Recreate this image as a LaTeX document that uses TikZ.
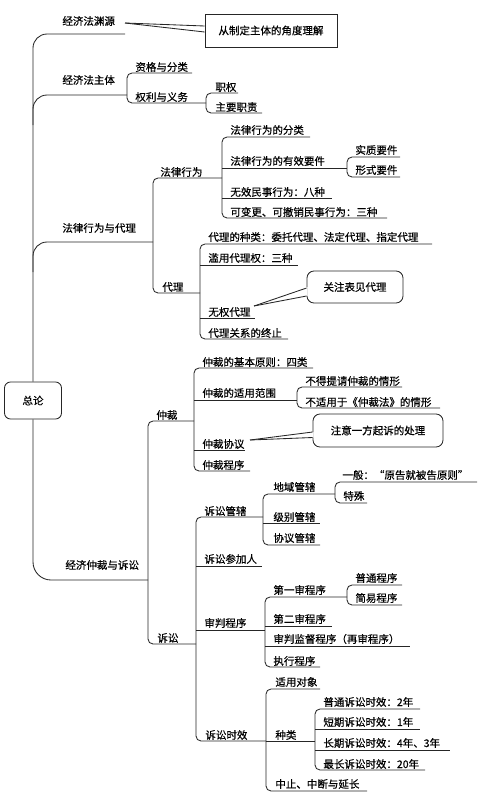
\documentclass[tikz,border=0pt]{standalone}
\usepackage{fontspec}
\newfontfamily\cjk[FakeBold=0.5]{Noto Sans CJK SC}
\newcommand\mmleaf[7]{\coordinate (#1s) at (#2,#3);\coordinate (#1e) at (#4,#3);\node[lbl] (#1) at (#5,#6) {#7};}
\newcommand\mmbrk[2]{\draw[br] (#1e) -- (#1s) -- (#2s) -- (#2e);}
\newcommand\mmul[1]{\draw (#1s) -- (#1e);}
\begin{document}
\begin{tikzpicture}[x=1pt,y=-1pt,line width=0.85pt,draw=black!85,
  lbl/.style={anchor=west,inner sep=0pt,font=\cjk\fontsize{10.5}{12}\selectfont},
  cbox/.style={draw,inner sep=0pt,font=\cjk\fontsize{10.5}{12}\selectfont},
  br/.style={rounded corners=5pt}]
\useasboundingbox (0,0) rectangle (496,793);
% root
\node[cbox,rounded corners=6pt,minimum width=57,minimum height=37] (root) at (33,400.5) {总论};
% level 1
\mmleaf{A1}{33}{34}{125}{62}{21}{经济法渊源}
\mmleaf{A2}{33}{95}{127}{62}{80}{经济法主体}
\mmleaf{A3}{33}{242}{153}{62}{228}{法律行为与代理}
\mmleaf{A4}{33}{580}{148}{65}{565}{经济仲裁与诉讼}
\coordinate (tk1) at (33,125);
\coordinate (tk2) at (33,272);
\draw[rounded corners=14pt] (A1e) -- (A1s) -- (root.north);
\draw[rounded corners=14pt] (tk1) -- (A2s) -- (A2e);
\draw[rounded corners=14pt] (tk2) -- (A3s) -- (A3e);
\draw[rounded corners=18pt] (root.south) -- (A4s) -- (A4e);
% callout 1
\node[cbox,minimum width=132,minimum height=33] (cb1) at (271,30.5) {从制定主体的角度理解};
\coordinate (tip1) at (125,23);
\draw (tip1) -- ([yshift=4.5pt]cb1.west);
\draw (tip1) -- ([yshift=-1.5pt]cb1.west);
% A2 children
\mmleaf{B1}{127}{73}{192}{135}{67}{资格与分类}
\mmleaf{B2}{127}{103}{206}{135}{97}{权利与义务}
\mmbrk{B1}{B2}
\mmleaf{C1}{206}{93}{238}{215}{87}{职权}
\mmleaf{C2}{206}{113}{262}{215}{107}{主要职责}
\mmbrk{C1}{C2}
% A3 children
\mmleaf{D1}{153}{178}{222}{160}{172}{法律行为}
\mmleaf{D2}{153}{293}{200}{162}{287}{代理}
\mmbrk{D1}{D2}
\mmleaf{E1}{222}{137}{310}{230}{130}{法律行为的分类}
\mmleaf{E2}{222}{168}{347}{230}{161}{法律行为的有效要件}
\mmleaf{E3}{222}{198}{332}{230}{192}{无效民事行为：八种}
\mmleaf{E4}{222}{218}{387}{230}{212}{可变更、可撤销民事行为：三种}
\mmbrk{E1}{E4}\mmul{E2}\mmul{E3}
\mmleaf{F1}{347}{157}{400}{355}{150}{实质要件}
\mmleaf{F2}{347}{177}{400}{355}{170}{形式要件}
\mmbrk{F1}{F2}
\mmleaf{G1}{200}{244}{432}{208}{237}{代理的种类：委托代理、法定代理、指定代理}
\mmleaf{G2}{200}{265}{298}{208}{258}{滥用代理权：三种}
\mmleaf{G3}{200}{318}{255}{208}{312}{无权代理}
\mmleaf{G4}{200}{339}{288}{208}{333}{代理关系的终止}
\mmbrk{G1}{G4}\mmul{G2}\mmul{G3}
% callout 2
\node[cbox,rounded corners=7pt,minimum width=96,minimum height=32] (cb2) at (355,287) {关注表见代理};
\coordinate (tip2) at (254,306);
\fill[white] (tip2) -- ([xshift=1pt,yshift=0pt]cb2.west) -- ([xshift=1pt,yshift=-9pt]cb2.west) -- cycle;
\draw (tip2) -- ([yshift=-1pt]cb2.west);
\draw (tip2) -- ([yshift=-9pt]cb2.west);
% A4 children
\mmleaf{H1}{148}{421}{194}{156}{415}{仲裁}
\mmleaf{H2}{148}{644}{196}{157}{638}{诉讼}
\mmbrk{H1}{H2}
\mmleaf{I1}{194}{368}{313}{202}{362}{仲裁的基本原则：四类}
\mmleaf{I2}{194}{400}{297}{202}{393}{仲裁的适用范围}
\mmleaf{I3}{194}{450}{245}{202}{444}{仲裁协议}
\mmleaf{I4}{194}{471}{250}{202}{465}{仲裁程序}
\mmbrk{I1}{I4}\mmul{I2}\mmul{I3}
\mmleaf{J1}{297}{387}{402}{305}{381}{不得提请仲裁的情形}
\mmleaf{J2}{297}{408}{440}{305}{402}{不适用于《仲裁法》的情形}
\mmbrk{J1}{J2}
% callout 3
\node[cbox,rounded corners=7pt,minimum width=130,minimum height=33] (cb3) at (378,430.5) {注意一方起诉的处理};
\coordinate (tip3) at (250,440);
\fill[white] (tip3) -- ([xshift=1pt,yshift=-1.5pt]cb3.west) -- ([xshift=1pt,yshift=-7pt]cb3.west) -- cycle;
\draw (tip3) -- ([yshift=-1.5pt]cb3.west);
\draw (tip3) -- ([yshift=-7pt]cb3.west);
% litigation
\mmleaf{K1}{196}{517}{263}{204}{511}{诉讼管辖}
\mmleaf{K2}{196}{566}{262}{204}{559}{诉讼参加人}
\mmleaf{K3}{196}{630}{265}{204}{623}{审判程序}
\mmleaf{K4}{196}{741}{266}{205}{735}{诉讼时效}
\mmbrk{K1}{K4}\mmul{K2}\mmul{K3}
\mmleaf{L1}{263}{494}{335}{273}{487}{地域管辖}
\mmleaf{L2}{263}{523}{320}{273}{517}{级别管辖}
\mmleaf{L3}{263}{545}{320}{273}{538}{协议管辖}
\mmbrk{L1}{L3}\mmul{L2}
\mmleaf{M1}{335}{482}{477}{342}{475}{一般：“原告就被告原则”}
\mmleaf{M2}{335}{503}{367}{343}{496}{特殊}
\mmbrk{M1}{M2}
\mmleaf{N1}{265}{597}{347}{273}{590}{第一审程序}
\mmleaf{N2}{265}{626}{332}{273}{619}{第二审程序}
\mmleaf{N3}{265}{646}{410}{273}{639}{审判监督程序（再审程序）}
\mmleaf{N4}{265}{667}{320}{273}{661}{执行程序}
\mmbrk{N1}{N4}\mmul{N2}\mmul{N3}
\mmleaf{O1}{347}{585}{402}{355}{578}{普通程序}
\mmleaf{O2}{347}{605}{402}{355}{598}{简易程序}
\mmbrk{O1}{O2}
\mmleaf{P1}{266}{689}{320}{275}{682}{适用对象}
\mmleaf{P2}{266}{741}{315}{275}{735}{种类}
\mmleaf{P3}{266}{791}{367}{275}{784}{中止、中断与延长}
\mmbrk{P1}{P3}\mmul{P2}
\mmleaf{Q1}{315}{709}{420}{323}{702}{普通诉讼时效：2年}
\mmleaf{Q2}{315}{729}{420}{323}{722}{短期诉讼时效：1年}
\mmleaf{Q3}{315}{750}{450}{323}{743}{长期诉讼时效：4年、3年}
\mmleaf{Q4}{315}{770}{425}{323}{764}{最长诉讼时效：20年}
\mmbrk{Q1}{Q4}\mmul{Q2}\mmul{Q3}
\end{tikzpicture}
\end{document}
